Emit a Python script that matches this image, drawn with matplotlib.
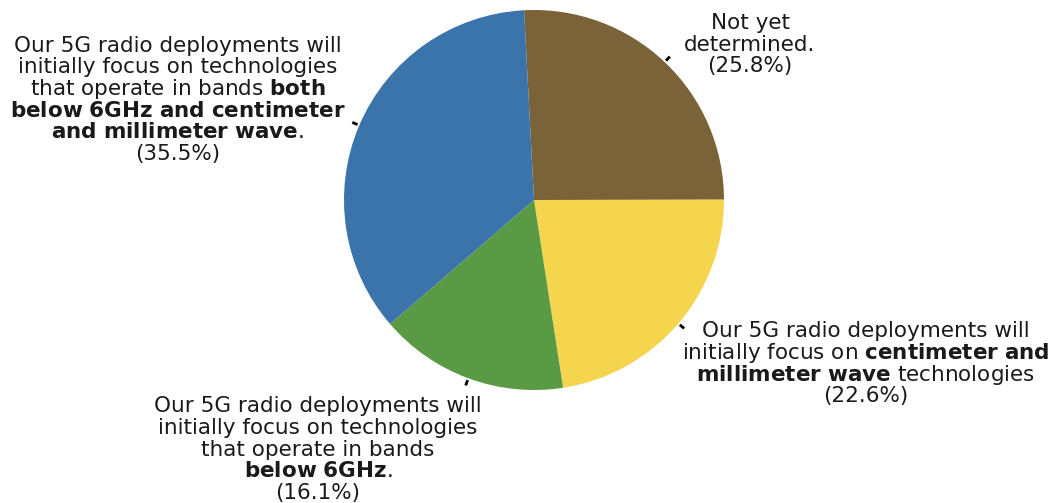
import numpy as np
import matplotlib
matplotlib.use('Agg')
import matplotlib.pyplot as plt

matplotlib.rcParams['font.family'] = 'DejaVu Sans'
matplotlib.rcParams['mathtext.fontset'] = 'dejavusans'

# respostas (31 no total)
respostas = [8, 7, 5, 11]
rotulos = [
    "Not yet\ndetermined.",
    "Our 5G radio deployments will\ninitially focus on $\\mathbf{centimeter\\ and}$\n"
    "$\\mathbf{millimeter\\ wave}$ technologies",
    "Our 5G radio deployments will\ninitially focus on technologies\nthat operate in bands\n"
    "$\\mathbf{below\\ 6GHz}$.",
    "Our 5G radio deployments will\ninitially focus on technologies\n"
    "that operate in bands $\\mathbf{both}$\n$\\mathbf{below\\ 6GHz\\ and\\ centimeter}$\n"
    "$\\mathbf{and\\ millimeter\\ wave}$.",
]
cores = ['#7b6339', '#f5d44e', '#5b9a44', '#3a74aa']
# centro do bloco de texto de cada fatia (em raios do grafico)
pos_texto = [(1.137, 0.826), (1.747, -0.853), (-1.137, -1.305), (-1.874, 0.537)]

fs = 15.5        # tamanho da fonte (pt)
passo = 15.6     # distancia entre linhas (pt)

fig = plt.figure(figsize=(10.59, 5.03), dpi=100)
ax = fig.add_axes([0, 0, 1, 1])

wedges, _ = ax.pie(respostas, colors=cores, startangle=93, counterclock=False,
                   radius=1.0)

total = sum(respostas)
for w, rot, v, (tx, ty) in zip(wedges, rotulos, respostas, pos_texto):
    ang = np.deg2rad((w.theta1 + w.theta2) / 2)
    # tracinho na borda da fatia
    ax.plot([1.01 * np.cos(ang), 1.04 * np.cos(ang)],
            [1.01 * np.sin(ang), 1.04 * np.sin(ang)],
            color='black', lw=2, solid_capstyle='butt')
    linhas = f"{rot}\n({v / total * 100:.1f}%)".split("\n")
    n = len(linhas)
    # uma linha por vez, para o espacamento ficar igual com e sem negrito
    for i, linha in enumerate(linhas):
        dy = ((n - 1) / 2 - i) * passo - 0.36 * fs
        ax.annotate(linha, xy=(tx, ty), xytext=(0, dy), textcoords='offset points',
                    ha='center', va='baseline', fontsize=fs, color='#1a1a1a')

ax.set_aspect('auto')
ax.set_xlim(-534 / 190, (1059 - 534) / 190)
ax.set_ylim((200 - 503) / 190, 200 / 190)
ax.axis('off')

plt.savefig('out.png', dpi=100)
